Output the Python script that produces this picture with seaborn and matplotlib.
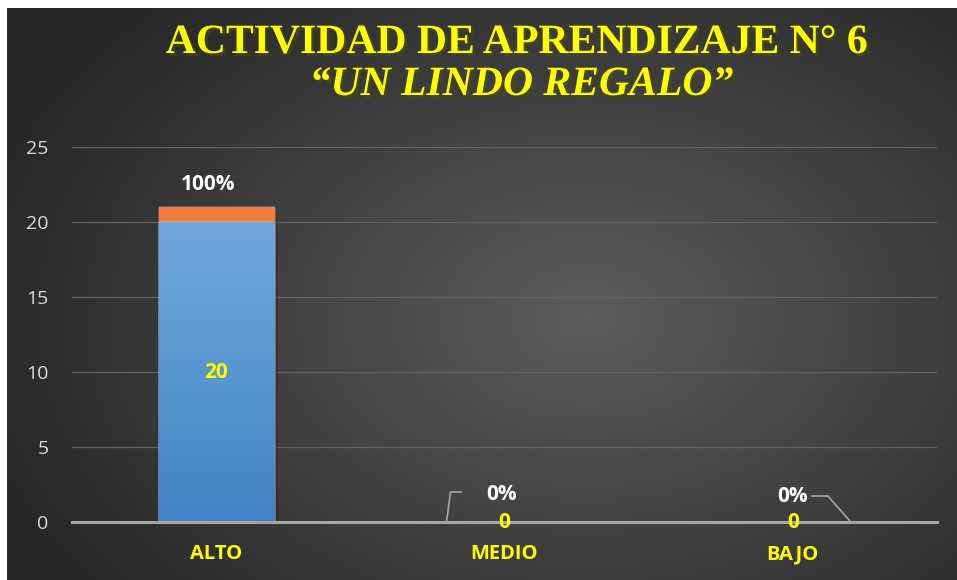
import numpy as np
import matplotlib
matplotlib.use("Agg")
import matplotlib.pyplot as plt
import matplotlib.patheffects as pe
from matplotlib.colors import LinearSegmentedColormap
import seaborn as sns

# data
categories = ['ALTO', 'MEDIO', 'BAJO']
counts = [20, 0, 0]
percents = [1.0, 0.0, 0.0]   # stacked series (100% = 1)
yticks = [0, 5, 10, 15, 20, 25]
title_1 = 'ACTIVIDAD DE APRENDIZAJE N° 6'
title_2 = '\u201cUN LINDO REGALO\u201d'

sns.set_theme(style="dark")
plt.rcParams['font.family'] = ['Open Sans', 'DejaVu Sans']

fig = plt.figure(figsize=(9.57, 5.8), dpi=100, facecolor='white')

# dark radial background
bg = fig.add_axes([7 / 957, 0, 950 / 957, 572 / 580], zorder=-10)
yy, xx = np.mgrid[0:572, 0:950]
r = np.sqrt(((xx - 580) / 640.0) ** 2 + ((yy - 310) / 440.0) ** 2)
r = np.clip(r, 0, 1)
bg_cmap = LinearSegmentedColormap.from_list('bg', ['#5c5c5c', '#262626'])
bg.imshow(r, cmap=bg_cmap, aspect='auto', vmin=0, vmax=1)
bg.axis('off')

ax = fig.add_axes([72 / 957, 58 / 580, 865 / 957, 375 / 580])
ax.set_facecolor('none')

totals = [c + p for c, p in zip(counts, percents)]
sns.barplot(x=categories, y=totals, color='#ed7d31', width=0.4, ax=ax,
            saturation=1, zorder=3)
sns.barplot(x=categories, y=counts, color='#5b9bd5', width=0.4, ax=ax,
            saturation=1, zorder=4)

ax.set_xlim(-0.5, 2.5)
ax.set_ylim(0, 25)

# gradient fill on the bars
orange_cm = LinearSegmentedColormap.from_list('o', ['#e0661a', '#ef8042'])
blue_cm = LinearSegmentedColormap.from_list('b', ['#4184c6', '#71a8dc'])
n_cat = len(categories)
for k, patch in enumerate(list(ax.patches)):
    x0, y0 = patch.get_x(), patch.get_y()
    w, h = patch.get_width(), patch.get_height()
    if h <= 0:
        continue
    cm = orange_cm if k < n_cat else blue_cm
    grad = np.linspace(1, 0, 100).reshape(-1, 1)
    im = ax.imshow(grad, cmap=cm, extent=[x0, x0 + w, y0, y0 + h],
                   aspect='auto', zorder=patch.get_zorder() + 0.1)
    im.set_clip_path(patch)
    patch.set_path_effects([pe.SimplePatchShadow(offset=(3, -2), alpha=0.35),
                            pe.Normal()])
ax.set_xlim(-0.5, 2.5)
ax.set_ylim(0, 25)

# axes styling
ax.set_yticks(yticks)
ax.grid(axis='y', color='#616161', linewidth=0.9, zorder=0)
ax.grid(axis='x', visible=False)
for s in ['top', 'right', 'left']:
    ax.spines[s].set_visible(False)
ax.spines['bottom'].set_color('#a6a6a6')
ax.spines['bottom'].set_linewidth(2.2)
ax.spines['bottom'].set_zorder(5)
ax.tick_params(axis='y', colors='#d9d9d9', labelsize=14, length=0, pad=17)
ax.tick_params(axis='x', length=0, pad=16)
for lab in ax.get_xticklabels():
    lab.set_color('#ffff00')
    lab.set_fontweight('bold')
    lab.set_fontsize(14.5)
ax.set_xlabel('')
ax.set_ylabel('')

fig.canvas.draw()

# data labels
for i, (c, p) in enumerate(zip(counts, percents)):
    ax.text(i, c / 2 if c > 0 else 0, f'{c}', color='#ffff00', fontsize=15,
            fontweight='bold', ha='center', va='center', zorder=6)

ax.annotate(f'{percents[0]:.0%}', xy=(0, totals[0]), xytext=(-6, 16),
            textcoords='offset points', color='white', fontsize=15,
            fontweight='bold', ha='center', va='center', zorder=6)

# small values get a leader line
leaders = {1: ((-3, 28), [(-58, 0), (-54, 30), (-43, 30)]),
           2: ((0, 25), [(58, 0), (35, 26), (19, 26)])}
for i, (txt_off, path) in leaders.items():
    px, py = ax.transData.transform((i, totals[i]))
    ax.text(px + txt_off[0], py + txt_off[1], f'{percents[i]:.0%}',
            transform=None, color='white', fontsize=15, fontweight='bold',
            ha='center', va='center', zorder=6)
    xs = [px + d[0] for d in path]
    ys = [py + d[1] for d in path]
    ax.plot(xs, ys, transform=None, color='#a6a6a6', linewidth=1.2,
            zorder=6, clip_on=False)

# title
shadow = [pe.withSimplePatchShadow(offset=(2, -2), alpha=0.6)]
serif = ['Liberation Serif', 'DejaVu Serif']
fig.text(516 / 957, 1 - 53 / 580, title_1, family=serif, fontsize=30,
         fontweight='bold', color='#ffff00', ha='center', va='baseline',
         path_effects=shadow)
fig.text(521 / 957, 1 - 95 / 580, title_2, family=serif, fontsize=30,
         fontweight='bold', fontstyle='italic', color='#ffff00',
         ha='center', va='baseline', path_effects=shadow)

fig.savefig('out.png', dpi=100, facecolor='white')
